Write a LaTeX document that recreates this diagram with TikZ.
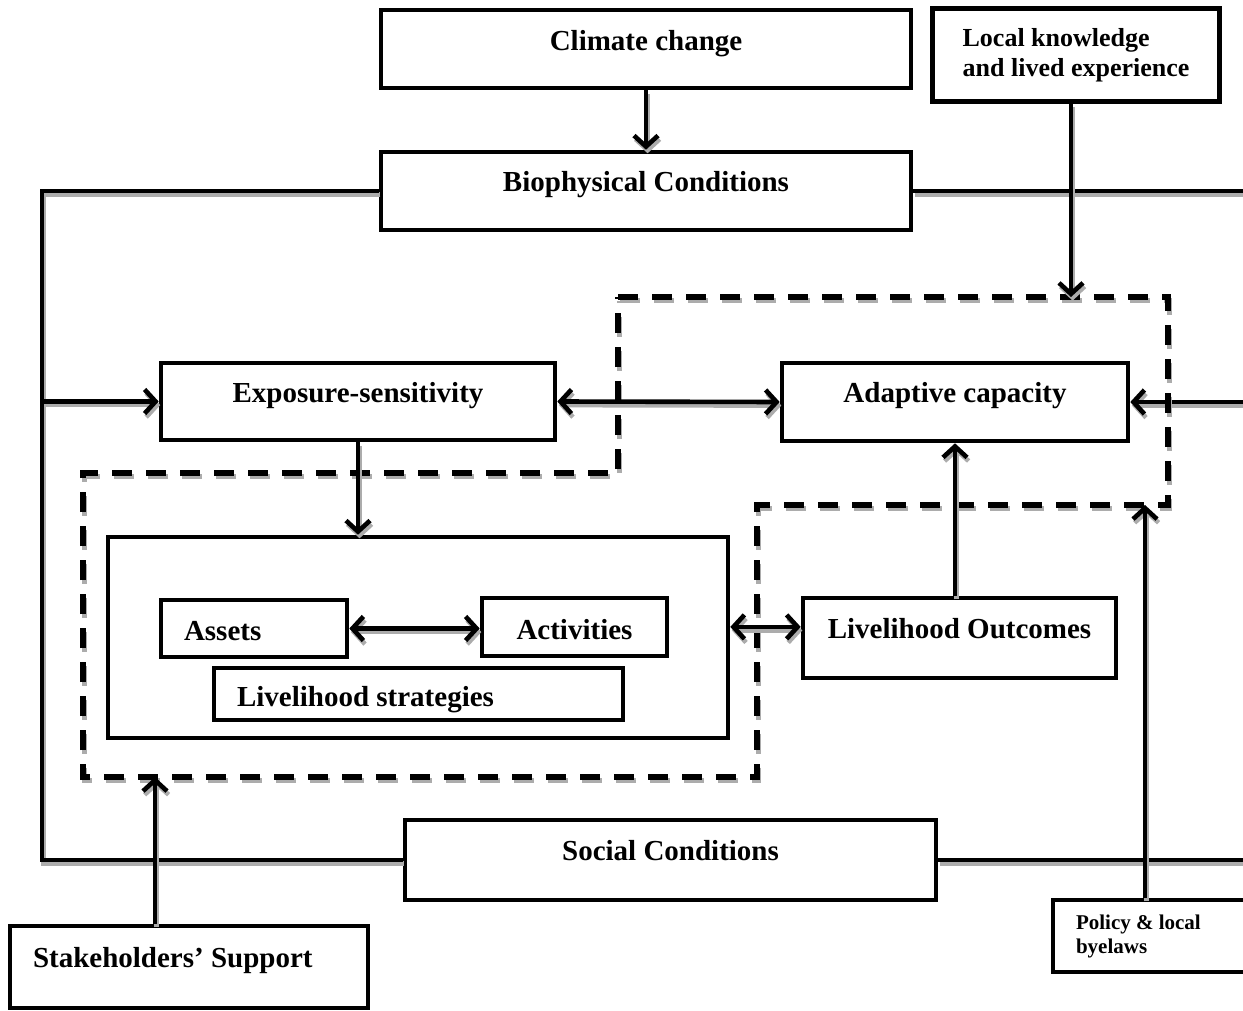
\documentclass[tikz,border=0pt]{standalone}
\usepackage{fontspec}
\setmainfont{Liberation Serif}
\usetikzlibrary{arrows.meta}

\begin{document}
\begin{tikzpicture}[x=0.5pt, y=-0.5pt, >={Straight Barb[length=5.5pt,width=12pt,line width=2.3pt]},
	frame/.style={draw, line width=2.3pt, font=\fontsize{14.5}{17}\selectfont\bfseries},
	box/.style={frame, text height=12.5pt, text depth=#1}, box/.default=0.5pt,
	link/.style={line width=2.3pt, preaction={draw=gray!65, line width=2.3pt, transform canvas={shift={(0.8pt,-1.8pt)}}}},
	zone/.style={line width=2.6pt, dash pattern=on 10pt off 7pt,
		preaction={draw=gray!65, line width=2.6pt, dash pattern=on 10pt off 7pt, transform canvas={shift={(0.8pt,-1.8pt)}}}}]
	\useasboundingbox (0,0) rectangle (1243,1011);
	% boxes
	\node[box=11pt, minimum width=265pt, minimum height=39pt] (clim) at (646,49) {Climate change};
	\node[frame, align=left, minimum width=143.5pt, minimum height=46.5pt, font=\fontsize{13}{15}\selectfont\bfseries] (know) at (1076,55) {Local knowledge\\and lived experience};
	\node[box=12pt, minimum width=265pt, minimum height=39pt] (bio) at (646,191) {Biophysical Conditions};
	\node[box=12pt, minimum width=197pt, minimum height=38.5pt] (expo) at (358,401.5) {Exposure-sensitivity};
	\node[box=12pt, minimum width=173pt, minimum height=39pt] (ada) at (955,402) {Adaptive capacity};
	\node[frame, minimum width=310pt, minimum height=100.5pt] (strat) at (418,637.5) {};
	\node[box, minimum width=93pt, minimum height=28.5pt] (ast) at (254,628.5) {\makebox[70pt][l]{Assets}};
	\node[box, minimum width=92.5pt, minimum height=29pt] (act) at (574.5,627) {Activities};
	\node[box, minimum width=204.5pt, minimum height=26pt] (lvs) at (418.5,694) {\makebox[181.5pt][l]{Livelihood strategies}};
	\node[box=12pt, minimum width=156.5pt, minimum height=40pt] (out) at (959.5,638) {Livelihood Outcomes};
	\node[box=12pt, minimum width=265.5pt, minimum height=40pt] (soc) at (670.5,860) {Social Conditions};
	\node[box=12pt, minimum width=179pt, minimum height=41pt] (stk) at (189,967) {\makebox[156pt][l]{Stakeholders’ Support}};
	\node[frame, align=left, minimum width=97pt, minimum height=36pt, font=\fontsize{10.5}{12}\selectfont\bfseries] (pol) at (1150,936) {\makebox[74pt][l]{Policy \& local}\\byelaws};
	% outer loop
	\coordinate (lft) at (42,0);
	\coordinate (rgt) at (1262,0);
	\draw[link] (bio.west) -| (soc.west -| lft) -- (soc.west);
	\draw[link] (bio.east) -- (bio.east -| rgt) -- (soc.east -| rgt) -- (soc.east);
	\draw[link,->] (expo.west -| lft) -- (expo.west);
	\draw[link,->] (ada.east -| rgt) -- (ada.east);
	% dashed zone
	\coordinate (d1) at (618,297);
	\coordinate (d2) at (1168,505);
	\coordinate (d3) at (757,777);
	\coordinate (d4) at (83,473);
	\draw[zone] (d1) -- (d1 -| d2) -- (d2) -- (d2 -| d3) -- (d3) -- (d3 -| d4) -- (d4) -- (d4 -| d1) -- cycle;
	% arrows
	\draw[link,->] (clim) -- (bio);
	\coordinate (kin) at (1071,297);
	\draw[link,->] (know.south -| kin) -- (kin);
	\draw[link,<->] (expo.east) -- (ada.west);
	\draw[link,->] (expo.south) -- (expo.south |- strat.north);
	\draw[link,<->] (ast.east) -- (ast.east -| act.west);
	\draw[link,<->] ([yshift=5.3pt]strat.east) -- ([yshift=5.3pt]strat.east -| out.west);
	\draw[link,->] (out.north -| ada.south) -- (ada.south);
	\coordinate (pin) at (1145,505);
	\draw[link,->] (pol.north -| pin) -- (pin);
	\coordinate (sin) at (155,777);
	\draw[link,->] (stk.north -| sin) -- (sin);
\end{tikzpicture}
\end{document}
